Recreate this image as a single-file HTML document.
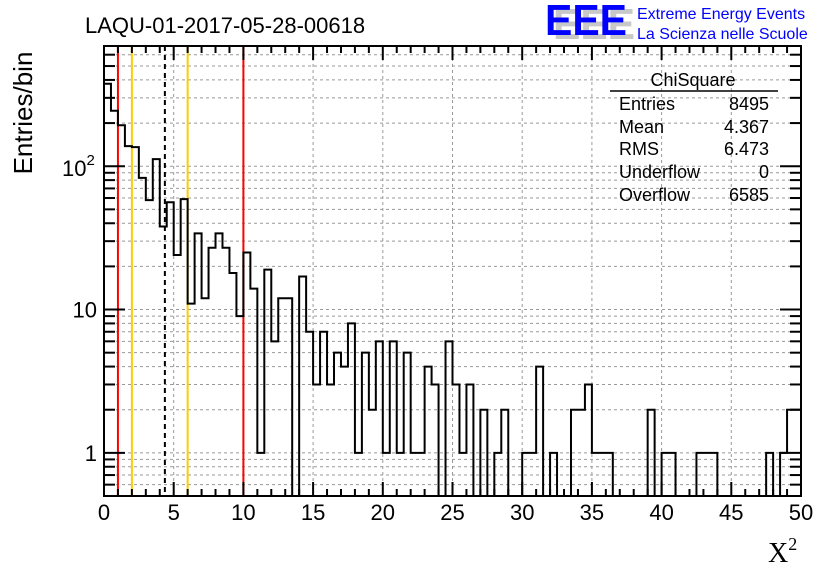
<!DOCTYPE html>
<html><head><meta charset="utf-8"><style>
html,body{margin:0;padding:0;background:#fff;}
svg{display:block;font-family:"Liberation Sans",sans-serif;}
</style></head><body>
<svg id="c" width="836" height="572" viewBox="0 0 836 572">
<rect width="836" height="572" fill="#fff"/>
<g id="grid"></g>
<g id="vlines"></g>
<g id="hist"></g>
<g id="axes"></g>
<text x="85" y="33" font-size="22">LAQU-01-2017-05-28-00618</text>
<g font-weight="bold" font-size="44">
<text x="553" y="39" fill="#c8c8c8" textLength="82" lengthAdjust="spacingAndGlyphs">EEE</text>
<text x="545" y="35" fill="#0000ff" textLength="82" lengthAdjust="spacingAndGlyphs">EEE</text>
</g>
<text x="637" y="19" font-size="16" fill="#0000ff">Extreme Energy Events</text>
<text x="637" y="39" font-size="16" fill="#0000ff">La Scienza nelle Scuole</text>
<g font-size="18">
<text x="693" y="86" text-anchor="middle">ChiSquare</text>
<line x1="610" y1="91" x2="778" y2="91" stroke="#000" stroke-width="1.5"/>
<text x="619" y="110">Entries</text><text x="769" y="110" text-anchor="end">8495</text>
<text x="619" y="133">Mean</text><text x="769" y="133" text-anchor="end">4.367</text>
<text x="619" y="155">RMS</text><text x="769" y="155" text-anchor="end">6.473</text>
<text x="619" y="178">Underflow</text><text x="769" y="178" text-anchor="end">0</text>
<text x="619" y="201">Overflow</text><text x="769" y="201" text-anchor="end">6585</text>
</g>
<text transform="translate(32,113) rotate(-90)" text-anchor="middle" font-size="26">Entries/bin</text>
<text x="768" y="562" font-size="28" font-family="Liberation Serif,serif">X<tspan font-size="18" dy="-12">2</tspan></text>
</svg>
<script>
const binValues=[376,244,193,138,136,83,58,112,38,56,24,59,11,34,12,27,34,27,18,9,25,14,1,19,6,12,12,0,17,7,3,7,3,5,4,8,1,5,2,6,1,6,1,5,1,1,4,3,0,6,3,1,3,0,2,0,1,2,0,0,1,1,4,0,1,0,0,2,2,3,1,1,1,0,0,0,0,0,2,0,1,1,0,0,0,1,1,1,0,0,0,0,0,0,0,1,0,1,2,2];
const xMin=0,xMax=50,yMin=0.5,yMax=690;
const xTicks=[0,5,10,15,20,25,30,35,40,45,50];
const refLines=[{v:1,c:"#ff0000",n:"red-line-1"},{v:2,c:"#ffcc00",n:"orange-line-2"},{v:4.367,c:"#000",n:"mean-line",d:true},{v:6,c:"#ffcc00",n:"orange-line-6"},{v:10,c:"#ff0000",n:"red-line-10"}];
const L=104,R=801,T=46,B=496,NS="http://www.w3.org/2000/svg";
const X=v=>L+(v-xMin)/(xMax-xMin)*(R-L);
const Y=v=>v<=yMin?B:B-(Math.log10(v)-Math.log10(yMin))/(Math.log10(yMax)-Math.log10(yMin))*(B-T);
function mk(t,a,p){const e=document.createElementNS(NS,t);for(const k in a)e.setAttribute(k,a[k]);p.appendChild(e);return e;}
const grid=document.getElementById('grid'),axes=document.getElementById('axes');
xTicks.forEach(t=>{if(t>xMin&&t<xMax){const l=mk('line',{x1:X(t),x2:X(t),y1:T,y2:B,stroke:'#999','stroke-dasharray':'3,3'},grid);

}});
for(let e=-1;e<=2;e++)for(let m=1;m<=9;m++){const v=m*Math.pow(10,e);if(v<yMin||v>yMax)continue;const y=Y(v);
const g=mk('line',{x1:L,x2:R,y1:y,y2:y,stroke:'#999','stroke-dasharray':'3,3'},grid);


const len=m===1?21:11;
mk('line',{x1:L,x2:L+len,y1:y,y2:y,stroke:'#000','stroke-width':2},axes);
mk('line',{x1:R,x2:R-len,y1:y,y2:y,stroke:'#000','stroke-width':2},axes);}
for(let v=xMin;v<=xMax;v++){const x=X(v),len=v%5===0?14:7;
mk('line',{x1:x,x2:x,y1:B,y2:B-len,stroke:'#000','stroke-width':2},axes);
mk('line',{x1:x,x2:x,y1:T,y2:T+len,stroke:'#000','stroke-width':2},axes);}
xTicks.forEach(t=>{const tx=mk('text',{x:X(t),y:520,'text-anchor':'middle','font-size':22},axes);tx.textContent=t;

});
[[1,'1'],[10,'10']].forEach(([v,s])=>{const tx=mk('text',{x:97,y:Y(v)+8,'text-anchor':'end','font-size':22},axes);tx.textContent=s;

});
const t2=mk('text',{x:62,y:Y(100)+10,'font-size':22},axes);t2.innerHTML='10<tspan font-size="15" dy="-11">2</tspan>';


const vl=document.getElementById('vlines');
refLines.forEach(r=>{const a={x1:X(r.v),x2:X(r.v),y1:T,y2:B,stroke:r.c,'stroke-width':2};if(r.d)a['stroke-dasharray']='5,4';const l=mk('line',a,vl);

});
const w=(xMax-xMin)/binValues.length;let d='M'+X(xMin)+','+B;
binValues.forEach((v,i)=>{const y=Y(v);d+=' L'+X(i*w)+','+y+' L'+X((i+1)*w)+','+y;});
d+=' L'+X(xMax)+','+B;
const h=mk('path',{d:d,fill:'none',stroke:'#000','stroke-width':2},document.getElementById('hist'));


const fr=mk('rect',{x:L,y:T,width:R-L,height:B-T,fill:'none',stroke:'#000','stroke-width':2},axes);


</script>
</body></html>
